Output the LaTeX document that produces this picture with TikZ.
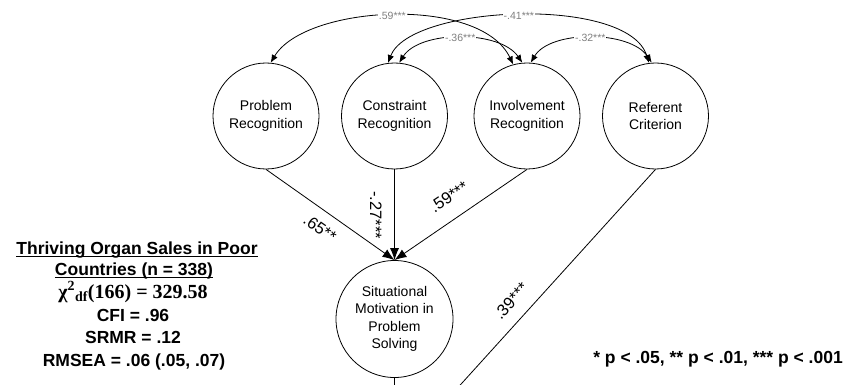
\documentclass[tikz,border=0pt]{standalone}
\usepackage{fontspec}
\setmainfont{Liberation Sans}
\newfontfamily\serifbf{Liberation Serif}
\usetikzlibrary{arrows.meta}
\begin{document}
\begin{tikzpicture}[x=1pt,y=-1pt,
  latent/.style={circle,draw,line width=0.8pt,inner sep=0pt,align=center,font=\fontsize{14}{17.5}\selectfont},
  regpath/.style={line width=0.8pt,-{Latex[length=12pt,width=9pt]}},
  plainpath/.style={line width=0.8pt},
  covpath/.style={line width=0.8pt,{Latex[length=8pt,width=6.5pt]}-{Latex[length=8pt,width=6.5pt]}},
  covlab/.style={fill=white,text=black!50,inner sep=1pt,font=\fontsize{10.5}{12}\selectfont},
  plab/.style={inner sep=0pt,font=\fontsize{16.5}{18}\selectfont},
  fitline/.style={inner sep=0pt,anchor=base,font=\fontsize{17.5}{20}\selectfont\bfseries},
  uline/.style={line width=1.4pt}
]
\useasboundingbox (0,0) rectangle (843,385);

% latent variables
\node[latent,minimum size=106pt] (PR) at (266,116) {Problem\\Recognition};
\node[latent,minimum size=106pt] (CR) at (394.5,116) {Constraint\\Recognition};
\node[latent,minimum size=106pt] (IR) at (527,116) {Involvement\\Recognition};
\node[latent,minimum size=106pt] (RC) at (655.5,116) {Referent\\Criterion};
\node[latent,minimum size=117pt] (SM) at (394.5,319) {Situational\\Motivation in\\Problem\\Solving};

% free ends (below the visible area)
\coordinate (SMend) at (394.5,425);
\coordinate (RCend) at (424,425);

% regression paths
\draw[regpath] (PR.south) -- (SM.north);
\draw[regpath] (CR.south) -- (SM.north);
\draw[regpath] (IR.south) -- (SM.north);
\draw[plainpath] (RC.south) -- (RCend);
\draw[plainpath] (SM.south) -- (SMend);

% path labels
\node[plab,rotate=-35] (l1) at (320,228) {.65**};
\node[plab,rotate=-90] (l2) at (376,215) {-.27***};
\node[plab,rotate=34] (l3) at (449,197) {.59***};
\node[plab,rotate=48] (l4) at (511,301) {.39***};

% covariances
\draw[covpath] (PR.85) .. controls (305,5) and (480,-5) .. node[covlab,pos=0.5] (c1) {.59***} (IR.105);
\draw[covpath] (CR.97) .. controls (410,5) and (628,-5) .. node[covlab,pos=0.5] (c2) {-.41***} (RC.97);
\draw[covpath] (CR.85) .. controls (420,30) and (500,30) .. node[covlab,pos=0.5] (c3) {-.36***} (IR.95);
\draw[covpath] (IR.86) .. controls (550,30) and (630,30) .. node[covlab,pos=0.5] (c4) {-.32***} (RC.94);

% fit statistics
\node[fitline] (t1) at (137,254) {Thriving Organ Sales in Poor};
\node[fitline] (t2) at (134,275) {Countries (n = 338)};
\draw[uline] ([yshift=-2.3pt]t1.base west) -- ([yshift=-2.3pt]t1.base east);
\draw[uline] ([yshift=-2.3pt]t2.base west) -- ([yshift=-2.3pt]t2.base east);
\node[inner sep=0pt,anchor=base,font=\fontsize{20}{22}\serifbf\bfseries] (t3) at (133,298) {χ\textsuperscript{2}\textsubscript{df}(166) = 329.58};
\node[fitline] (t4) at (133,321) {CFI = .96};
\node[fitline] (t5) at (133,343) {SRMR = .12};
\node[fitline] (t6) at (134,366) {RMSEA = .06 (.05, .07)};

% significance note
\node[inner sep=0pt,anchor=base east,font=\fontsize{17.5}{20}\selectfont\bfseries] (note) at (843,363) {* p < .05, ** p < .01, *** p < .001};
\end{tikzpicture}
\end{document}
